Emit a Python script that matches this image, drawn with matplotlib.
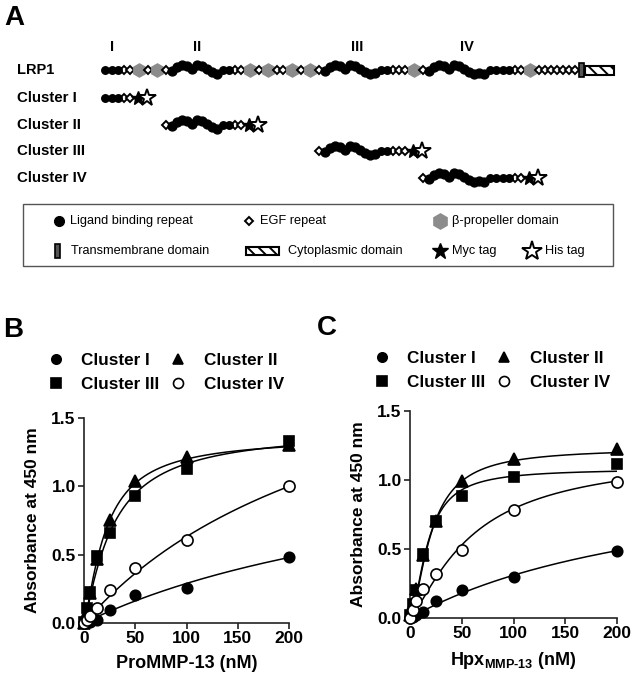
import matplotlib
matplotlib.use("Agg")
import matplotlib.pyplot as plt
from matplotlib.patches import Rectangle
from matplotlib.ticker import FormatStrFormatter
import numpy as np

plt.rcParams['font.family'] = 'Liberation Sans'
plt.rcParams['mathtext.fontset'] = 'custom'
plt.rcParams['mathtext.rm'] = 'Liberation Sans:bold'
plt.rcParams['mathtext.bf'] = 'Liberation Sans:bold'
plt.rcParams['mathtext.it'] = 'Liberation Sans:bold'
plt.rcParams['hatch.linewidth'] = 1.4

# --- panel A : domain map ---
# L ligand binding repeat, W ligand repeat inside a cluster, E EGF repeat,
# P beta-propeller, T transmembrane, C cytoplasmic, M myc tag, H his tag
LRP1_DOMAINS = ("LLLEEPEPE" + "W" * 10 + "LLEEPEPEEPEPE" + "W" * 11 +
                "LLEEEPE" + "W" * 12 + "LLLLEEP" + "E" * 7 + "TC")
CLUSTER_NAMES = ["Cluster I", "Cluster II", "Cluster III", "Cluster IV"]
CLUSTER_SPANS = [(0, 4), (8, 22), (31, 47), (49, 67)]   # slices of LRP1_DOMAINS
ROMAN = ["I", "II", "III", "IV"]

# --- panels B and C : binding data ---
conc = [0, 3.125, 6.25, 12.5, 25, 50, 100, 200]
b_cluster1 = [0.0, 0.005, 0.01, 0.024, 0.098, 0.207, 0.256, 0.485]
b_cluster2 = [0.0, 0.08, 0.22, 0.47, 0.756, 1.037, 1.215, 1.30]
b_cluster3 = [0.01, 0.11, 0.23, 0.49, 0.66, 0.93, 1.125, 1.33]
b_cluster4 = [0.0, 0.02, 0.05, 0.11, 0.244, 0.40, 0.61, 1.0]
c_cluster1 = [0.0, 0.01, 0.02, 0.04, 0.12, 0.205, 0.30, 0.488]
c_cluster2 = [0.02, 0.10, 0.21, 0.46, 0.70, 0.995, 1.155, 1.225]
c_cluster3 = [0.02, 0.10, 0.20, 0.465, 0.70, 0.885, 1.02, 1.113]
c_cluster4 = [0.0, 0.06, 0.12, 0.21, 0.32, 0.49, 0.785, 0.985]

# fitted curves (Bmax, K, Hill slope) for clusters I..IV
b_fit = [(1.39, 380, 1.0), (1.36, 21.3, 1.3), (1.42, 28.1, 1.2), (2.4, 280, 1.0)]
c_fit = [(1.147, 270, 1.0), (1.23, 20.5, 1.6), (1.08, 17.1, 1.69), (1.2, 60, 1.3)]

W_PX = 634
H_PX = 681
WIDTH = {'L': 6.5, 'W': 5, 'E': 6, 'P': 12, 'T': 6, 'C': 30, 'M': 9, 'H': 10}
WAVE = [1, -3, -5, -4, -1, -5, -4, -1, 2, 4, 3, 4, 3]


def positions(codes, x0):
    xs = [x0]
    for a, b in zip(codes[:-1], codes[1:]):
        xs.append(xs[-1] + (WIDTH[a] + WIDTH[b]) / 2)
    return xs


def wave_offsets(codes):
    offs = []
    k = 0
    for c in codes:
        if c == 'W':
            offs.append(WAVE[k % len(WAVE)])
            k += 1
        else:
            offs.append(0)
            k = 0
    return offs


def draw_row(ax, codes, xs, y):
    offs = wave_offsets(codes)
    for c, x, o in zip(codes, xs, offs):
        if c in 'LW':
            ax.plot(x, y + o, 'o', color='black', ms=5.4 if c == 'L' else 6.4, zorder=3)
        elif c == 'E':
            ax.plot(x, y, 'D', mfc='white', mec='black', ms=4.0, mew=1.4, zorder=2)
        elif c == 'P':
            ax.plot(x, y, 'h', color='#8c8c8c', ms=9.5, zorder=2)
        elif c == 'M':
            ax.plot(x, y, '*', color='black', ms=10.5, zorder=4)
        elif c == 'H':
            ax.plot(x, y, '*', mfc='white', mec='black', ms=13, mew=1.4, zorder=4)
        elif c == 'T':
            ax.add_patch(Rectangle((x - 2.5, y - 7), 5, 14, fc='#555555', ec='black', lw=1.2, zorder=3))
        elif c == 'C':
            ax.add_patch(Rectangle((x - 14, y - 4.5), 29, 9, fc='white', ec='black', lw=1.5,
                                   hatch='\\\\\\', zorder=3))


def px_box(l, t, r, b):
    return [l / W_PX, 1 - b / H_PX, (r - l) / W_PX, (b - t) / H_PX]


fig = plt.figure(figsize=(W_PX / 100, H_PX / 100), dpi=100)
over = fig.add_axes([0, 0, 1, 1])
over.set_xlim(0, W_PX)
over.set_ylim(H_PX, 0)
over.axis('off')

# panel letters
for letter, x, y in [("A", 4, 25), ("B", 3, 337), ("C", 317, 335)]:
    over.text(x, y, letter, fontsize=20, fontweight='bold', va='baseline')

# roman numerals above the clusters
for lab, x in zip(ROMAN, [112, 197, 357, 467]):
    over.text(x, 47, lab, fontsize=10.5, fontweight='bold', ha='center', va='center')

row_y = [70, 98, 125, 151, 178]
lrp_x = positions(LRP1_DOMAINS, 105)
over.text(17, row_y[0], "LRP1", fontsize=10.5, fontweight='bold', va='center')
draw_row(over, LRP1_DOMAINS, lrp_x, row_y[0])

for name, (i0, i1), y in zip(CLUSTER_NAMES, CLUSTER_SPANS, row_y[1:]):
    codes = LRP1_DOMAINS[i0:i1 + 1] + "MH"
    xs = lrp_x[i0:i1 + 1]
    xs = xs + positions(codes[-3:], xs[-1])[1:]
    over.text(17, y, name, fontsize=10.8, fontweight='bold', va='center')
    draw_row(over, codes, xs, y)

# key box
over.add_patch(Rectangle((23, 204), 590, 62, fc='none', ec='#555555', lw=1.0))
r1, r2 = 221, 251
over.plot(59, r1, 'o', color='black', ms=7)
over.plot(249, r1, 'D', mfc='white', mec='black', ms=4.2, mew=1.4)
over.plot(440, r1, 'h', color='#8c8c8c', ms=11)
over.add_patch(Rectangle((55, r2 - 7), 5, 14, fc='#555555', ec='black', lw=1.2))
over.add_patch(Rectangle((246, r2 - 4), 33, 8, fc='white', ec='black', lw=1.5, hatch='\\\\\\'))
over.plot(440, r2, '*', color='black', ms=12)
over.plot(532, r2, '*', mfc='white', mec='black', ms=15, mew=1.4)
key_text = [(70, r1, "Ligand binding repeat"), (260, r1, "EGF repeat"),
            (452, r1, "β-propeller domain"), (71, r2, "Transmembrane domain"),
            (288, r2, "Cytoplasmic domain"), (452, r2, "Myc tag"), (545, r2, "His tag")]
for x, y, t in key_text:
    over.text(x, y, t, fontsize=9.2, va='center')

# --- binding curves ---
styles = [dict(marker='o', mfc='black', mec='black'),
          dict(marker='^', mfc='black', mec='black'),
          dict(marker='s', mfc='black', mec='black'),
          dict(marker='o', mfc='white', mec='black')]
sizes = [7.5, 8, 7.5, 8]


def binding_panel(box, series, fits, xlabel, leg_anchor):
    ax = fig.add_axes(px_box(*box))
    xx = np.linspace(0, 200, 400)
    for bmax, k, h in fits:
        ax.plot(xx, bmax * xx ** h / (k ** h + xx ** h), color='black', lw=1.1, zorder=2)
    handles = []
    for i in [0, 1, 3, 2]:
        ln, = ax.plot(conc, series[i], ls='none', ms=sizes[i], mew=1.2, clip_on=False,
                      zorder=3 + i, label=CLUSTER_NAMES[i], **styles[i])
        handles.append(ln)
    h1, h2, h4, h3 = handles
    ax.legend(handles=[h1, h3, h2, h4], ncol=2, loc='upper left', bbox_to_anchor=leg_anchor,
              bbox_transform=over.transData, frameon=False, borderpad=0, borderaxespad=0,
              handlelength=1.0, handletextpad=1.0, columnspacing=0.6, labelspacing=0.5,
              numpoints=1, markerscale=0.9, prop={'weight': 'bold', 'size': 12.3})
    ax.set_xlim(0, 200)
    ax.set_ylim(0, 1.5)
    ax.set_xticks([0, 50, 100, 150, 200])
    ax.set_yticks([0, 0.5, 1.0, 1.5])
    ax.yaxis.set_major_formatter(FormatStrFormatter('%.1f'))
    ax.spines[['top', 'right']].set_visible(False)
    ax.spines[['left', 'bottom']].set_linewidth(1.2)
    ax.spines[['left', 'bottom']].set_color('#222222')
    ax.tick_params(direction='out', length=4, width=1.2, labelsize=12.5, pad=2, colors='#222222',
                   labelcolor='black')
    for lab in ax.get_xticklabels() + ax.get_yticklabels():
        lab.set_fontweight('bold')
    ax.set_xlabel(xlabel, fontsize=13, fontweight='bold', labelpad=6)
    ax.set_ylabel('Absorbance at 450 nm', fontsize=12.5, fontweight='bold', labelpad=8)
    ax.patch.set_alpha(0)
    return ax


binding_panel((84, 418, 289, 623), [b_cluster1, b_cluster2, b_cluster3, b_cluster4], b_fit,
              'ProMMP-13 (nM)', (47, 353))
binding_panel((410, 411, 617, 618), [c_cluster1, c_cluster2, c_cluster3, c_cluster4], c_fit,
              r'Hpx$_{\mathrm{MMP\text{-}13}}$ (nM)', (373, 351))

fig.savefig('out.png', dpi=100)
